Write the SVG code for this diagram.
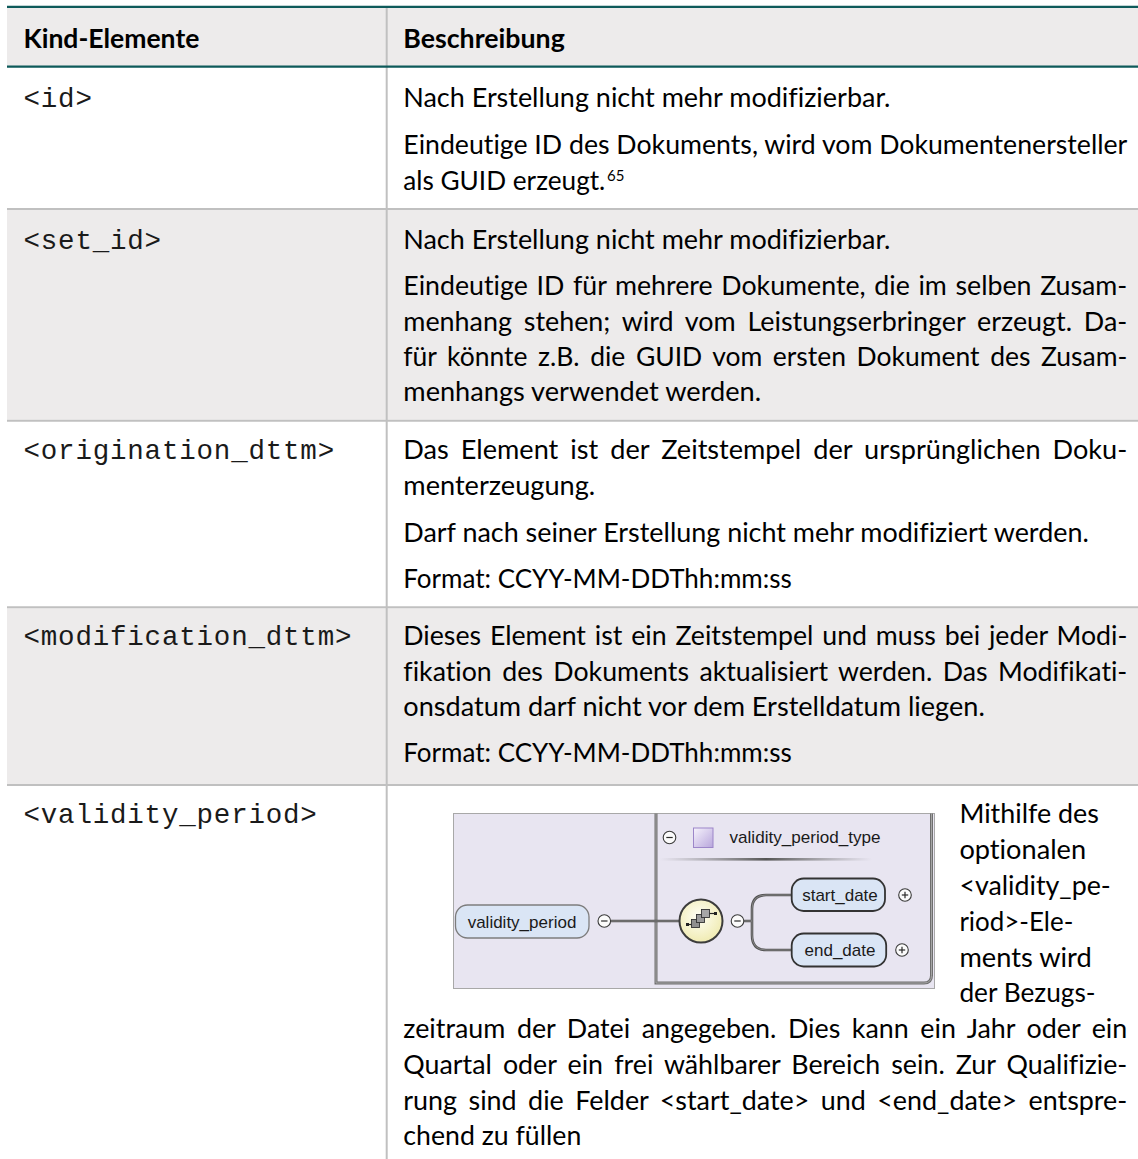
<svg xmlns="http://www.w3.org/2000/svg" width="1138" height="1159" viewBox="0 0 1138 1159">
<style>
.b{font-family:Lato,"Open Sans","Liberation Sans",sans-serif;font-size:26.5px;fill:#000;font-variant-ligatures:none;font-feature-settings:"liga" 0}
.sup{font-family:Lato,"Open Sans","Liberation Sans",sans-serif;font-size:15px;fill:#000}
.h{font-family:Lato,"Open Sans","Liberation Sans",sans-serif;font-size:26.5px;font-weight:700;fill:#000;font-variant-ligatures:none}
.m{font-family:"Liberation Mono","Courier New",monospace;font-size:27.5px;letter-spacing:0.8px;fill:#1a1a1a}
.x{font-family:"Liberation Sans",Arial,sans-serif;font-size:17px;fill:#1a1a1a}
.gray{fill:#EDEBEB}
.rowline{stroke:#C0C0C0;stroke-width:2}
.teal{stroke:#0E5A5A;stroke-width:2.2}
.pm{fill:#FBFBFB;stroke:#3a3a3a;stroke-width:1.1}
.pms{stroke:#2a2a2a;stroke-width:1.2}
.pill{fill:#DAE5F5}
.wire{fill:none;stroke:#555;stroke-width:2.6}
.wirec{fill:none;stroke:#9a9a9a;stroke-width:0.7}
</style>
<defs>
<linearGradient id="purp" x1="0" y1="0" x2="1" y2="1"><stop offset="0" stop-color="#F6F3FC"/><stop offset="1" stop-color="#B8A6DC"/></linearGradient>
<radialGradient id="yel" cx="0.45" cy="0.4" r="0.6"><stop offset="0" stop-color="#FFFFF6"/><stop offset="1" stop-color="#F0EBB2"/></radialGradient>
<linearGradient id="sep" x1="0" y1="0" x2="1" y2="0"><stop offset="0" stop-color="#7a7a7a" stop-opacity="0"/><stop offset="0.5" stop-color="#555" stop-opacity="1"/><stop offset="1" stop-color="#7a7a7a" stop-opacity="0"/></linearGradient>
</defs>

<g id="table-background">
<rect x="0" y="0" width="1138" height="1159" fill="#FFFFFF"/>
<rect class="gray" x="7" y="7" width="1131" height="59.7"/>
<rect class="gray" x="7" y="210" width="1131" height="209.7"/>
<rect class="gray" x="7" y="608.3" width="1131" height="175.7"/>
</g>

<g id="table-grid">
<line x1="386.7" y1="7" x2="386.7" y2="1159" stroke="#C0C0C0" stroke-width="2"/>
<line class="rowline" x1="7" y1="209" x2="1138" y2="209"/>
<line class="rowline" x1="7" y1="420.7" x2="1138" y2="420.7"/>
<line class="rowline" x1="7" y1="607.3" x2="1138" y2="607.3"/>
<line class="rowline" x1="7" y1="785" x2="1138" y2="785"/>
<line class="teal" x1="7" y1="6.8" x2="1138" y2="6.8"/>
<line class="teal" x1="7" y1="66.7" x2="1138" y2="66.7"/>
</g>

<g id="header">
<text class="h" x="23.5" y="48.3" textLength="175.8" lengthAdjust="spacingAndGlyphs">Kind-Elemente</text>
<text class="h" x="403.3" y="48.3" textLength="161.5" lengthAdjust="spacingAndGlyphs">Beschreibung</text>
</g>

<g id="row-id">
<text class="m" x="23.5" y="106.7">&lt;id&gt;</text>
<text class="b" x="403.3" y="106.7" textLength="487.2" lengthAdjust="spacingAndGlyphs">Nach Erstellung nicht mehr modifizierbar.</text>
<text class="b" x="403.3" y="154" textLength="724" lengthAdjust="spacingAndGlyphs">Eindeutige ID des Dokuments, wird vom Dokumentenersteller</text>
<text class="b" x="403.3" y="189.5" textLength="202" lengthAdjust="spacingAndGlyphs">als GUID erzeugt.</text>
<text class="sup" x="607" y="180.5">65</text>
</g>

<g id="row-set_id">
<text class="m" x="23.5" y="248.5">&lt;set_id&gt;</text>
<text class="b" x="403.3" y="248.5" textLength="487.2" lengthAdjust="spacingAndGlyphs">Nach Erstellung nicht mehr modifizierbar.</text>
<text class="b" x="403.3" y="295" word-spacing="1.8" textLength="724" lengthAdjust="spacingAndGlyphs">Eindeutige ID für mehrere Dokumente, die im selben Zusam-</text>
<text class="b" x="403.3" y="330.8" word-spacing="4.9" textLength="724" lengthAdjust="spacingAndGlyphs">menhang stehen; wird vom Leistungserbringer erzeugt. Da-</text>
<text class="b" x="403.3" y="366.3" word-spacing="3.8" textLength="724" lengthAdjust="spacingAndGlyphs">für könnte z.B. die GUID vom ersten Dokument des Zusam-</text>
<text class="b" x="403.3" y="401" textLength="357.8" lengthAdjust="spacingAndGlyphs">menhangs verwendet werden.</text>
</g>

<g id="row-origination_dttm">
<text class="m" x="23.5" y="459">&lt;origination_dttm&gt;</text>
<text class="b" x="403.3" y="459" word-spacing="5" textLength="724" lengthAdjust="spacingAndGlyphs">Das Element ist der Zeitstempel der ursprünglichen Doku-</text>
<text class="b" x="403.3" y="494.8" textLength="192" lengthAdjust="spacingAndGlyphs">menterzeugung.</text>
<text class="b" x="403.3" y="541.7" textLength="685.5" lengthAdjust="spacingAndGlyphs">Darf nach seiner Erstellung nicht mehr modifiziert werden.</text>
<text class="b" x="403.3" y="588.3" textLength="388.4" lengthAdjust="spacingAndGlyphs">Format: CCYY-MM-DDThh:mm:ss</text>
</g>

<g id="row-modification_dttm">
<text class="m" x="23.5" y="645">&lt;modification_dttm&gt;</text>
<text class="b" x="403.3" y="645" word-spacing="2" textLength="724" lengthAdjust="spacingAndGlyphs">Dieses Element ist ein Zeitstempel und muss bei jeder Modi-</text>
<text class="b" x="403.3" y="680.8" word-spacing="3.6" textLength="724" lengthAdjust="spacingAndGlyphs">fikation des Dokuments aktualisiert werden. Das Modifikati-</text>
<text class="b" x="403.3" y="716.3" textLength="581.5" lengthAdjust="spacingAndGlyphs">onsdatum darf nicht vor dem Erstelldatum liegen.</text>
<text class="b" x="403.3" y="761.7" textLength="388.4" lengthAdjust="spacingAndGlyphs">Format: CCYY-MM-DDThh:mm:ss</text>
</g>

<g id="row-validity_period">
<text class="m" x="23.5" y="823">&lt;validity_period&gt;</text>
<text class="b" x="959.4" y="823.4" textLength="139.5" lengthAdjust="spacingAndGlyphs">Mithilfe des</text>
<text class="b" x="959.4" y="859.2" textLength="126.7" lengthAdjust="spacingAndGlyphs">optionalen</text>
<text class="b" x="959.4" y="895" textLength="151.4" lengthAdjust="spacingAndGlyphs">&lt;validity_pe-</text>
<text class="b" x="959.4" y="930.8" textLength="113.9" lengthAdjust="spacingAndGlyphs">riod&gt;-Ele-</text>
<text class="b" x="959.4" y="966.6" textLength="132.3" lengthAdjust="spacingAndGlyphs">ments wird</text>
<text class="b" x="959.4" y="1002.4" textLength="136.2" lengthAdjust="spacingAndGlyphs">der Bezugs-</text>
<text class="b" x="403.3" y="1038.2" word-spacing="4.6" textLength="724" lengthAdjust="spacingAndGlyphs">zeitraum der Datei angegeben. Dies kann ein Jahr oder ein</text>
<text class="b" x="403.3" y="1074" word-spacing="4.2" textLength="724" lengthAdjust="spacingAndGlyphs">Quartal oder ein frei wählbarer Bereich sein. Zur Qualifizie-</text>
<text class="b" x="403.3" y="1109.8" word-spacing="4.5" textLength="724" lengthAdjust="spacingAndGlyphs">rung sind die Felder &lt;start_date&gt; und &lt;end_date&gt; entspre-</text>
<text class="b" x="403.3" y="1145" textLength="178" lengthAdjust="spacingAndGlyphs">chend zu füllen</text>
</g>

<g id="xsd-diagram">
<rect x="453.5" y="813.5" width="481" height="175" fill="#E8E5F1" stroke="#A8A8A8" stroke-width="1"/>
<g id="type-box">
<path d="M656,813.5 V983 H924 Q931.5,983 931.5,975.5 V813.5" fill="none" stroke="#6f6f6f" stroke-width="3"/>
<path d="M656,813.5 V983 H924 Q931.5,983 931.5,975.5 V813.5" fill="none" stroke="#b4b4b4" stroke-width="0.8"/>
<circle class="pm" cx="669.5" cy="837.5" r="6.3"/>
<line class="pms" x1="666.3" y1="837.5" x2="672.7" y2="837.5"/>
<rect x="693.5" y="828" width="19.5" height="19.5" fill="url(#purp)" stroke="#9C86C9" stroke-width="1"/>
<text class="x" x="729.5" y="842.5" textLength="151" lengthAdjust="spacingAndGlyphs">validity_period_type</text>
<rect x="660" y="858" width="212" height="2.6" fill="url(#sep)"/>
</g>

<g id="connectors">
<path class="wire" d="M610.6,921 H679.5"/>
<path class="wirec" d="M610.6,921 H679.5"/>
<path class="wire" d="M743.8,921 H752 M791.7,895 H766 Q752,895 752,909 V935 Q752,950 766,950 H791.7"/>
<path class="wirec" d="M743.8,921 H752 M791.7,895 H766 Q752,895 752,909 V935 Q752,950 766,950 H791.7"/>
</g>

<g id="node-validity_period">
<rect class="pill" x="455.5" y="905" width="133.5" height="33" rx="12" stroke="#7d7d7d" stroke-width="1.3"/>
<text class="x" x="522" y="928" text-anchor="middle">validity_period</text>
<circle class="pm" cx="604.3" cy="921" r="6.3"/>
<line class="pms" x1="601.1" y1="921" x2="607.5" y2="921"/>
</g>

<g id="node-sequence">
<circle cx="701" cy="921" r="21.5" fill="url(#yel)" stroke="#3c3c3c" stroke-width="2"/>
<line x1="689" y1="924.5" x2="692" y2="924.5" stroke="#222" stroke-width="1.2"/>
<rect x="686" y="923" width="3" height="3" fill="#222"/>
<rect x="691.5" y="919.5" width="8" height="8" fill="#8f8f8f" stroke="#333" stroke-width="0.9"/>
<rect x="696.5" y="914.5" width="8" height="8" fill="#9a9a9a" stroke="#333" stroke-width="0.9"/>
<rect x="701.5" y="909.5" width="8" height="8" fill="#a6a6a6" stroke="#333" stroke-width="0.9"/>
<line x1="709.5" y1="913.5" x2="714" y2="913.5" stroke="#222" stroke-width="1.2"/>
<rect x="714" y="912" width="3" height="3" fill="#222"/>
<circle class="pm" cx="737.5" cy="921" r="6.3"/>
<line class="pms" x1="734.3" y1="921" x2="740.7" y2="921"/>
</g>

<g id="node-start_date">
<rect class="pill" x="791.7" y="878.5" width="93.3" height="32.5" rx="12" stroke="#333" stroke-width="1.8"/>
<text class="x" x="840" y="901" text-anchor="middle">start_date</text>
<circle class="pm" cx="905" cy="895" r="6.3"/>
<line class="pms" x1="901.8" y1="895" x2="908.2" y2="895"/>
<line class="pms" x1="905" y1="891.8" x2="905" y2="898.2"/>
</g>

<g id="node-end_date">
<rect class="pill" x="791.7" y="933.5" width="94.5" height="33" rx="12" stroke="#333" stroke-width="1.8"/>
<text class="x" x="840" y="956" text-anchor="middle">end_date</text>
<circle class="pm" cx="902" cy="950" r="6.3"/>
<line class="pms" x1="898.8" y1="950" x2="905.2" y2="950"/>
<line class="pms" x1="902" y1="946.8" x2="902" y2="953.2"/>
</g>
</g>
</svg>
